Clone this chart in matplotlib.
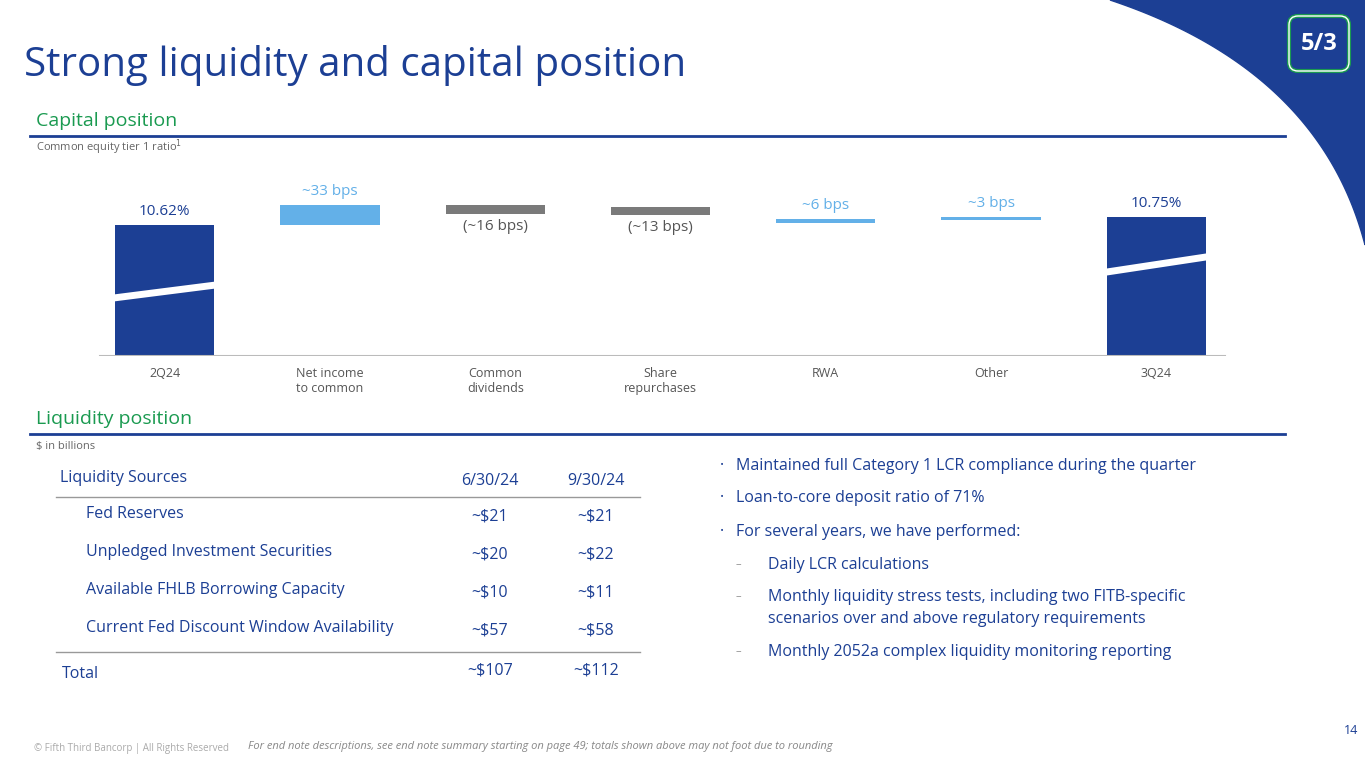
import numpy as np
import matplotlib.pyplot as plt
from matplotlib.patches import Polygon, FancyBboxPatch

plt.rcParams['font.family'] = ['Open Sans', 'DejaVu Sans']

NAVY = "#1c3f94"
LIGHT = "#63b0e8"
GREY = "#7a7a7a"
GREEN = "#1a9a50"
TXT = "#1c3f94"

W, H = 1365, 768
fig = plt.figure(figsize=(W / 100, H / 100), dpi=100)

# full-figure overlay in pixel coordinates (y down)
bg = fig.add_axes([0, 0, 1, 1])
bg.set_xlim(0, W)
bg.set_ylim(H, 0)
bg.axis("off")

# blue corner swoosh: quadratic curve
t = np.linspace(0, 1, 80)
p0, p1, p2 = np.array([1110, 0]), np.array([1320, 70]), np.array([1365, 245])
curve = ((1 - t) ** 2)[:, None] * p0 + (2 * (1 - t) * t)[:, None] * p1 + (t ** 2)[:, None] * p2
bg.add_patch(Polygon(np.vstack([curve, [[1365, 0]]]), closed=True, color=NAVY, zorder=0))
# logo
bg.add_patch(FancyBboxPatch((1289, 16), 60, 55, boxstyle="round,pad=0,rounding_size=9",
                            fc=NAVY, ec=GREEN, lw=3, zorder=2))
bg.add_patch(FancyBboxPatch((1289, 16), 60, 55, boxstyle="round,pad=0,rounding_size=9",
                            fc="none", ec="white", lw=1, zorder=3))
bg.text(1319, 44, "5/3", color="white", fontsize=17, fontweight="bold",
        ha="center", va="center", zorder=4)

bg.text(24, 65, "Strong liquidity and capital position", color=NAVY, fontsize=29,
        va="center")

# section headers
bg.text(36, 121, "Capital position", color=GREEN, fontsize=14, va="center")
bg.plot([30, 1285], [136, 136], color=NAVY, lw=2)
bg.text(36, 147, "Common equity tier 1 ratio$^1$", color="#666666", fontsize=8, va="center")

bg.text(36, 419, "Liquidity position", color=GREEN, fontsize=14, va="center")
bg.plot([30, 1285], [434, 434], color=NAVY, lw=2)
bg.text(36, 447, "$ in billions", color="#666666", fontsize=8, va="center")

# waterfall
cats = ["2Q24", "Net income\nto common", "Common\ndividends", "Share\nrepurchases",
        "RWA", "Other", "3Q24"]
start, end = 10.62, 10.75
deltas = [0.33, -0.16, -0.13, 0.06, 0.03]
labels = ["10.62%", "~33 bps", "(~16 bps)", "(~13 bps)", "~6 bps", "~3 bps", "10.75%"]

base_val = 8.44
top_val = 11.54
ax = fig.add_axes([82 / W, 1 - 356 / H, 1157 / W, (356 - 170) / H])
ax.set_xlim(-0.5, 6.5)
ax.set_ylim(base_val, top_val)
for s in ["top", "right", "left", "bottom"]:
    ax.spines[s].set_visible(False)
ax.axhline(base_val, xmin=18 / 1157, xmax=1143 / 1157, color="#bbbbbb", lw=1.5)
ax.set_yticks([])
ax.set_xticks(range(7))
ax.set_xticklabels(cats, fontsize=9, color="#555555")
ax.tick_params(axis="x", length=0, pad=8)

bw = 0.6
ax.bar(0, start - base_val, bw, bottom=base_val, color=NAVY)
ax.bar(6, end - base_val, bw, bottom=base_val, color=NAVY)
level = start
for i, d in enumerate(deltas, start=1):
    col = LIGHT if d > 0 else GREY
    h = max(abs(d), 0.04)
    bottom = level if d > 0 else level + d
    if d > 0 and abs(d) < 0.1:
        bottom = level + d - h
    if d < 0:
        h, bottom = 0.14, level - 0.14 if i == 2 else level
    ax.bar(i, h, bw, bottom=bottom, color=col)
    if d > 0:
        ax.text(i, bottom + h + 0.1, labels[i], ha="center", va="bottom",
                color=LIGHT, fontsize=11)
    else:
        ax.text(i, bottom - 0.08, labels[i], ha="center", va="top",
                color="#555555", fontsize=11)
    level += d
ax.text(0, start + 0.1, labels[0], ha="center", va="bottom", color=NAVY, fontsize=11)
ax.text(6, end + 0.1, labels[6], ha="center", va="bottom", color=NAVY, fontsize=11)
# axis break marks
ax.plot([-bw / 2, bw / 2], [9.41, 9.62], color="white", lw=5)
ax.plot([6 - bw / 2, 6 + bw / 2], [9.84, 10.09], color="white", lw=5)

# liquidity table
rows = [("Fed Reserves", "~$21", "~$21"),
        ("Unpledged Investment Securities", "~$20", "~$22"),
        ("Available FHLB Borrowing Capacity", "~$10", "~$11"),
        ("Current Fed Discount Window Availability", "~$57", "~$58")]
fs = 11.5
bg.text(60, 478, "Liquidity Sources", color=TXT, fontsize=fs, va="center")
bg.text(490, 481, "6/30/24", color=TXT, fontsize=fs, va="center", ha="center")
bg.text(596, 481, "9/30/24", color=TXT, fontsize=fs, va="center", ha="center")
bg.plot([56, 640], [497, 497], color="#999999", lw=1)
for k, (name, a, b) in enumerate(rows):
    y = 516 + k * 38
    bg.text(86, y - 2, name, color=TXT, fontsize=fs, va="center")
    bg.text(490, y, a, color=TXT, fontsize=fs, va="center", ha="center")
    bg.text(596, y, b, color=TXT, fontsize=fs, va="center", ha="center")
bg.plot([56, 640], [652, 652], color="#999999", lw=1)
bg.text(62, 674, "Total", color=TXT, fontsize=fs, va="center")
bg.text(490, 671, "~$107", color=TXT, fontsize=fs, va="center", ha="center")
bg.text(596, 671, "~$112", color=TXT, fontsize=fs, va="center", ha="center")

# bullets
bul = [(466, "Maintained full Category 1 LCR compliance during the quarter"),
       (498, "Loan-to-core deposit ratio of 71%"),
       (532, "For several years, we have performed:")]
for y, s in bul:
    bg.text(720, y, "·", color=TXT, fontsize=fs, va="center")
    bg.text(736, y, s, color=TXT, fontsize=fs, va="center")
subs = [(565, "Daily LCR calculations"),
        (597, "Monthly liquidity stress tests, including two FITB-specific"),
        (619, "scenarios over and above regulatory requirements"),
        (652, "Monthly 2052a complex liquidity monitoring reporting")]
for y, s in subs:
    if y != 619:
        bg.text(736, y, "–", color="#888888", fontsize=8, va="center")
    bg.text(768, y, s, color=TXT, fontsize=fs, va="center")

bg.text(1358, 730, "14", color=NAVY, fontsize=9, ha="right", va="center")
bg.text(34, 749, "© Fifth Third Bancorp | All Rights Reserved", color="#aaaaaa",
        fontsize=7, va="center")
bg.text(248, 747, "For end note descriptions, see end note summary starting on page 49; "
        "totals shown above may not foot due to rounding", color="#888888",
        fontsize=8, style="italic", va="center")

fig.savefig("out.png", dpi=100)
